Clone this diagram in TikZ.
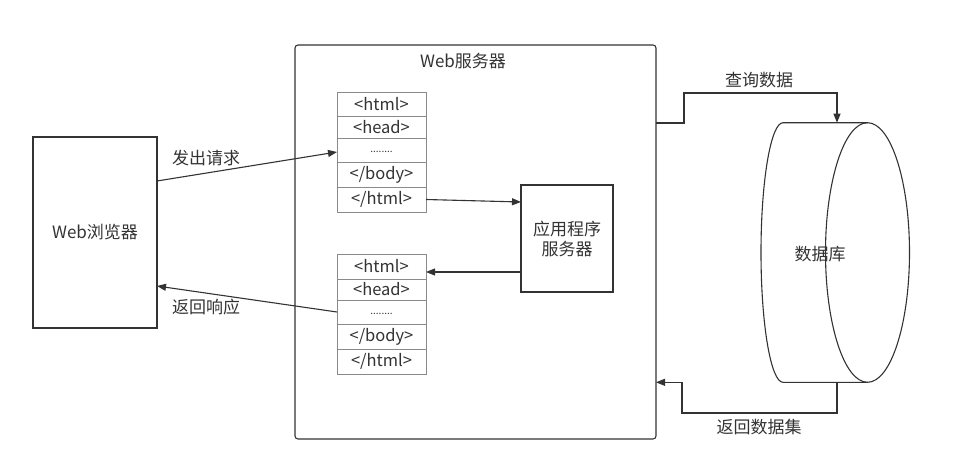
\documentclass[tikz,border=0pt]{standalone}
\usepackage{fontspec}
\setmainfont{Noto Sans CJK SC}
\usetikzlibrary{arrows.meta,calc}
\definecolor{ink}{HTML}{333333}
\definecolor{cell}{HTML}{8A8A8A}
\begin{document}
\begin{tikzpicture}[x=1pt,y=-1pt,
  every node/.style={text=ink,font=\fontsize{17}{20}\selectfont},
  box/.style={draw=ink,line width=1.1pt,inner sep=0pt,outer sep=0pt},
  cellbox/.style={draw=cell,line width=0.8pt,inner sep=0pt,outer sep=0pt,minimum width=89pt,font=\fontsize{16.5}{18}\selectfont},
  dots/.style={cellbox,font=\fontsize{10}{10}\selectfont},
  arr/.style={draw=ink,line width=1.1pt,-{Triangle[length=9pt,width=7pt]}},
  lbl/.style={inner sep=1pt}]
\useasboundingbox (0,0) rectangle (954,450);
% browser
\node[box,minimum width=124pt,minimum height=191pt] (browser) at (95,232.5) {Web浏览器};
% web server
\draw[draw=ink,line width=1.1pt,rounded corners=3pt] (295,45) rectangle (656,439);
\coordinate (srvNE) at (656,45);
\node (srvtitle) at (463,61) {Web服务器};
% stack 1
\node[cellbox,minimum height=24pt] (r11) at (381.5,104) {<html>};
\node[cellbox,minimum height=22pt] (r12) at (381.5,127) {<head>};
\node[dots,minimum height=24pt] (r13) at (381.5,150) {\raisebox{-5pt}{........}};
\node[cellbox,minimum height=25pt] (r14) at (381.5,174.5) {</body>};
\node[cellbox,minimum height=25pt] (r15) at (381.5,199.5) {</html>};
% stack 2
\node[cellbox,minimum height=25pt] (r21) at (381.5,266.5) {<html>};
\node[cellbox,minimum height=21pt] (r22) at (381.5,289.5) {<head>};
\node[dots,minimum height=24pt] (r23) at (381.5,312) {\raisebox{-5pt}{........}};
\node[cellbox,minimum height=25pt] (r24) at (381.5,336.5) {</body>};
\node[cellbox,minimum height=25pt] (r25) at (381.5,361.5) {</html>};
% app server
\node[box,minimum width=92pt,minimum height=107pt,align=center,font=\fontsize{17}{20}\selectfont] (app) at (567,238.5) {应用程序\\服务器};
% database cylinder
\coordinate (dbtop) at (837,122.7);
\coordinate (dbbot) at (837,382.3);
\draw[draw=ink,line width=1.1pt] (867.5,122.7) -- (783,122.7) arc[start angle=90,end angle=270,x radius=22,y radius=-129.8] -- (867.5,382.3);
\draw[draw=ink,line width=1.1pt] (867.5,252.5) ellipse[x radius=42,y radius=129.8];
\node (db) at (820,254) {数据库};
% connectors
\draw[arr] ([yshift=-44pt]browser.north east) -- ([yshift=-2pt]r13.west);
\node[lbl] (l1) at (206,158) {发出请求};
\draw[arr] (r23.west) -- ([yshift=-149pt]browser.north east);
\node[lbl] (l2) at (206,307) {返回响应};
\draw[arr] (r15.east) -- ([yshift=-17pt]app.north west);
\draw[arr] ([yshift=-87pt]app.north west) -- ([yshift=-87pt]app.north west -| r21.east);
% query
\coordinate (sq) at ([yshift=-78pt]srvNE);
\coordinate (q1) at (684,93);
\draw[arr] (sq) -- (sq -| q1) -- (q1) -- (q1 -| dbtop) -- (dbtop);
\node[lbl] (l3) at (759,80) {查询数据};
% return
\coordinate (q2) at (682,413);
\coordinate (sr) at (656,382.3);
\draw[arr] (dbbot) -- (dbbot |- q2) -- (q2) -- (q2 |- sr) -- (sr);
\node[lbl] (l4) at (759,427) {返回数据集};
\end{tikzpicture}
\end{document}
